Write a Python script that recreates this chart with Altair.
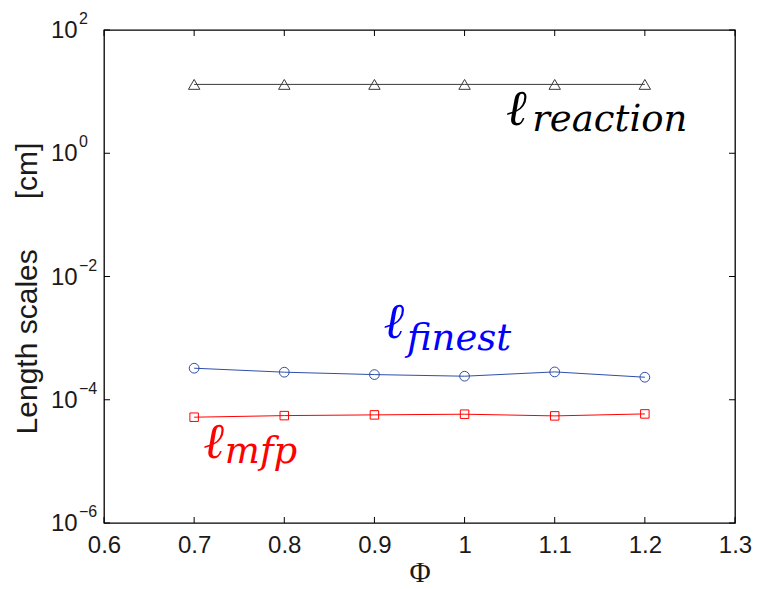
import altair as alt
import pandas as pd

# ---- data ----
phi = [0.7, 0.8, 0.9, 1.0, 1.1, 1.2]
l_reaction = [13.1, 13.1, 13.1, 13.1, 13.1, 13.1]
l_finest = [3.25e-4, 2.80e-4, 2.56e-4, 2.41e-4, 2.83e-4, 2.32e-4]
l_mfp = [5.21e-5, 5.53e-5, 5.68e-5, 5.83e-5, 5.47e-5, 5.89e-5]

series_values = [l_reaction, l_finest, l_mfp]
series_line_colors = ["#3a3a3a", "#2f4fa8", "#ff0000"]
series_shapes = ["triangle-up", "circle", "square"]
series_sizes = [130, 95, 72]

x_ticks = [0.6, 0.7, 0.8, 0.9, 1.0, 1.1, 1.2, 1.3]
y_ticks = [1e-6, 1e-4, 1e-2, 1e0, 1e2]
y_tick_exp = ["\u22126", "\u22124", "\u22122", "0", "2"]

# annotation labels: main symbol anchor and subscript anchor in data coords
ann_sub = ["reaction", "finest", "mfp"]
ann_colors = ["#000000", "#0000ff", "#ff0000"]
ann_x = [1.046, 0.910, 0.710]
ann_y = [2.88, 1.0e-3, 1.14e-5]
ann_sub_x = [1.075, 0.936, 0.734]
ann_sub_y = [2.30, 6.44e-4, 9.45e-6]

W, H = 631, 493

x_scale = alt.Scale(domain=[0.6, 1.3], nice=False, zero=False)
y_scale = alt.Scale(type="log", domain=[1e-6, 1e2], nice=False)

x_axis = alt.Axis(
    values=x_ticks, format=".1~f", ticks=False, domain=False, grid=False,
    labelFont="Liberation Sans", labelFontSize=24, labelColor="#1a1a1a",
    labelPadding=10, labelFlush=False, labelOverlap=False,
    title="\u03a6", titleFont="Liberation Serif", titleFontSize=29,
    titleFontWeight="normal", titleColor="#1a1a1a", titlePadding=1,
)
y_axis = alt.Axis(
    values=y_ticks, labels=False, ticks=False, domain=False, grid=False,
    title="Length scales\u00a0\u00a0\u00a0\u00a0\u00a0\u00a0[cm]", titleFont="Liberation Sans",
    titleFontSize=30, titleFontWeight="normal", titleColor="#1a1a1a",
    titlePadding=62, titleY=258,
)

X = lambda f: alt.X(f, type="quantitative", scale=x_scale, axis=x_axis)
Y = lambda f: alt.Y(f, type="quantitative", scale=y_scale, axis=y_axis)

layers = []

# series
for vals, col, shp, sz in zip(series_values, series_line_colors, series_shapes, series_sizes):
    d = pd.DataFrame({"phi": phi, "v": vals})
    c = alt.Chart(d)
    layers.append(c.mark_line(color=col, strokeWidth=1).encode(x=X("phi"), y=Y("v")))
    layers.append(
        c.mark_point(shape=shp, size=sz, filled=False, color=col, strokeWidth=1, opacity=1)
        .encode(x=X("phi"), y=Y("v"))
    )

# inward ticks
xt = alt.Chart(pd.DataFrame({"t": x_ticks}))
layers.append(xt.mark_rule(color="black", strokeWidth=1).encode(x=X("t"), y=alt.value(H), y2=alt.value(H - 6)))
layers.append(xt.mark_rule(color="black", strokeWidth=1).encode(x=X("t"), y=alt.value(0), y2=alt.value(6)))
yt_df = pd.DataFrame({"t": y_ticks, "e": y_tick_exp})
yt = alt.Chart(yt_df)
layers.append(yt.mark_rule(color="black", strokeWidth=1).encode(y=Y("t"), x=alt.value(0), x2=alt.value(6)))
layers.append(yt.mark_rule(color="black", strokeWidth=1).encode(y=Y("t"), x=alt.value(W), x2=alt.value(W - 6)))

# y tick labels: "10" with superscript exponent
layers.append(
    yt.mark_text(align="left", baseline="middle", font="Liberation Sans", fontSize=24,
                 color="#1a1a1a", dy=1, text="10")
    .encode(y=Y("t"), x=alt.value(-53))
)
layers.append(
    yt.mark_text(align="left", baseline="middle", font="Liberation Sans", fontSize=16,
                 color="#1a1a1a", dy=-11)
    .encode(y=Y("t"), x=alt.value(-25), text="e:N")
)

# annotations
for sub, col, ax, ay, sx, sy in zip(ann_sub, ann_colors, ann_x, ann_y, ann_sub_x, ann_sub_y):
    d = pd.DataFrame({"x": [ax], "y": [ay], "sx": [sx], "sy": [sy], "s": [sub], "m": ["\u2113"]})
    c = alt.Chart(d)
    layers.append(
        c.mark_text(align="left", baseline="alphabetic", font="DejaVu Serif", fontStyle="italic",
                    fontSize=50, color=col)
        .encode(x=X("x"), y=Y("y"), text="m:N")
    )
    layers.append(
        c.mark_text(align="left", baseline="alphabetic", font="DejaVu Serif", fontStyle="italic",
                    fontSize=37, color=col)
        .encode(x=X("sx"), y=Y("sy"), text="s:N")
    )

chart = (
    alt.layer(*layers)
    .properties(
        width=W, height=H,
        autosize=alt.AutoSizeParams(type="none"),
        padding={"left": 104, "top": 30, "right": 26, "bottom": 66},
        background="white",
    )
    .configure_view(stroke="black", strokeWidth=1.3)
)

chart.save("out.html", embed_options={"renderer": "svg", "actions": False})
